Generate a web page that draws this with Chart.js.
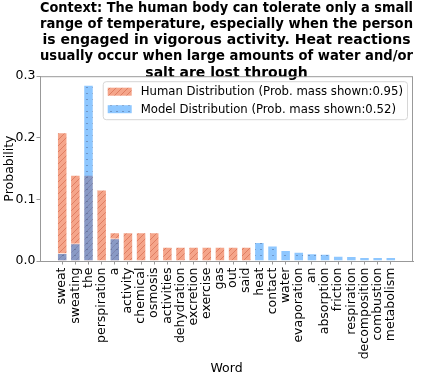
<!DOCTYPE html>
<html>
<head>
<meta charset="utf-8">
<script src="https://cdn.jsdelivr.net/npm/chart.js@4"></script>
<style>
  body { margin: 0; background: #fff; }
  canvas { display: block; }
</style>
</head>
<body>
<canvas id="myChart" width="425" height="379"></canvas>
<script>
// words on the x axis
var words = ['sweat', 'sweating', 'the', 'perspiration', 'a', 'activity', 'chemical', 'osmosis',
    'activities', 'dehydration', 'excretion', 'exercise', 'gas', 'out', 'said',
    'heat', 'contact', 'water', 'evaporation', 'an', 'absorption', 'friction',
    'respiration', 'decomposition', 'combustion', 'metabolism'];

var humanProb = [0.209, 0.140, 0.140, 0.116, 0.0465, 0.0465, 0.0465, 0.0465,
    0.0233, 0.0233, 0.0233, 0.0233, 0.0233, 0.0233, 0.0233,
    0, 0, 0, 0, 0, 0, 0, 0, 0, 0, 0];

var modelProb = [0.013, 0.029, 0.286, 0, 0.037, 0, 0, 0,
    0, 0, 0, 0, 0, 0, 0,
    0.031, 0.025, 0.018, 0.015, 0.0124, 0.0119, 0.0086, 0.0081, 0.0065, 0.0065, 0.0065];

var yTicks = [0, 0.1, 0.2, 0.3];

var titleLines = [
    'Context: The human body can tolerate only a small',
    'range of temperature, especially when the person',
    'is engaged in vigorous activity. Heat reactions',
    'usually occur when large amounts of water and/or',
    'salt are lost through'
];
var legendLabels = ['Human Distribution (Prob. mass shown:0.95)', 'Model Distribution (Prob. mass shown:0.52)'];

var FONT = '"DejaVu Sans", sans-serif';

// hatch "///" for the human bars
function hatchPattern() {
    var c = document.createElement('canvas');
    c.width = 6; c.height = 6;
    var g = c.getContext('2d');
    g.fillStyle = 'rgba(242,140,105,0.78)';
    g.fillRect(0, 0, 6, 6);
    g.strokeStyle = 'rgba(205,95,65,0.55)';
    g.lineWidth = 1;
    for (var k = -6; k <= 6; k += 6) {
        g.beginPath();
        g.moveTo(k, 6);
        g.lineTo(k + 6, 0);
        g.stroke();
    }
    return g.createPattern(c, 'repeat');
}

// dots for the model bars
function dotPattern() {
    var c = document.createElement('canvas');
    c.width = 6; c.height = 6;
    var g = c.getContext('2d');
    g.fillStyle = 'rgba(30,144,255,0.5)';
    g.fillRect(0, 0, 6, 6);
    g.fillStyle = 'rgba(70,90,130,0.45)';
    g.fillRect(2, 3, 2, 1);
    return g.createPattern(c, 'repeat');
}

var humanFill = hatchPattern();
var modelFill = dotPattern();

var legendFills = [humanFill, modelFill];

var ctx = document.getElementById('myChart').getContext('2d');

var framePlugin = {
    id: 'frame',
    afterLayout: function (chart) {
        // centre the title over the axes like matplotlib
        var a = chart.chartArea;
        chart.titleBlock.left = a.left;
        chart.titleBlock.right = a.right;
    },
    afterDatasetsDraw: function (chart) {
        var a = chart.chartArea;
        var c = chart.ctx;
        c.save();
        c.strokeStyle = '#999';
        c.lineWidth = 1;
        c.strokeRect(a.left + 0.5, a.top + 0.5, a.right - a.left - 1, a.bottom - a.top);
        c.restore();
    },
    afterDraw: function (chart) {
        var a = chart.chartArea;
        var c = chart.ctx;
        c.save();
        c.font = '11.7px ' + FONT;
        var tw = Math.max.apply(null, legendLabels.map(function (t) { return c.measureText(t).width; }));
        var w = 38 + tw + 4;
        var right = a.right - 6;
        var left = right - w;
        var top = a.top + 5;
        var h = 38;
        c.fillStyle = 'rgba(255,255,255,0.85)';
        c.strokeStyle = '#d6d6d6';
        c.lineWidth = 1;
        c.beginPath();
        c.roundRect(left + 0.5, top + 0.5, w, h, 3);
        c.fill();
        c.stroke();
        legendLabels.forEach(function (t, i) {
            var cy = top + 10.5 + i * 17.5;
            c.fillStyle = '#fff';
            c.fillRect(left + 5, cy - 4, 24, 8);
            c.fillStyle = legendFills[i];
            c.fillRect(left + 5, cy - 4, 24, 8);
            c.fillStyle = '#000';
            c.textBaseline = 'middle';
            c.textAlign = 'left';
            c.fillText(t, left + 38, cy + 0.5);
        });
        c.restore();
    }
};

var myChart = new Chart(ctx, {
    type: 'bar',
    data: {
        datasets: [
            {
                label: legendLabels[0],
                data: words.map(function (w, i) { return { x: i, y: humanProb[i] }; }),
                backgroundColor: humanFill,
                borderColor: 'rgba(255,255,255,0.7)',
                borderWidth: 1,
                grouped: false,
                order: 2,
                barPercentage: 0.8,
                categoryPercentage: 1
            },
            {
                label: legendLabels[1],
                data: words.map(function (w, i) { return { x: i, y: modelProb[i] }; }),
                backgroundColor: modelFill,
                borderColor: 'rgba(255,255,255,0.7)',
                borderWidth: 1,
                grouped: false,
                order: 1,
                barPercentage: 0.8,
                categoryPercentage: 1
            }
        ]
    },
    options: {
        responsive: false,
        animation: false,
        layout: {
            padding: { left: 0, right: 12, top: 0, bottom: 0 }
        },
        plugins: {
            legend: { display: false },
            tooltip: { enabled: false },
            title: {
                display: true,
                text: titleLines,
                color: '#000',
                font: { family: FONT, size: 14, weight: 'bold', lineHeight: 1.16 },
                padding: { top: 0, bottom: -5 }
            }
        },
        scales: {
            x: {
                type: 'linear',
                offset: false,
                min: -1.69,
                max: 26.69,
                afterBuildTicks: function (scale) {
                    scale.ticks = words.map(function (w, i) { return { value: i }; });
                },
                afterFit: function (scale) {
                    scale.height = 118;
                    scale.paddingLeft = 0;
                    scale.paddingRight = 0;
                },
                ticks: {
                    autoSkip: false,
                    minRotation: 90,
                    maxRotation: 90,
                    padding: 3,
                    color: '#000',
                    font: { family: FONT, size: 12.5 },
                    callback: function (v) { return words[v]; }
                },
                grid: { offset: false, drawOnChartArea: false, tickLength: 3.5, color: '#999' },
                border: { color: '#999' },
                title: {
                    display: true,
                    text: 'Word',
                    color: '#000',
                    font: { family: FONT, size: 12.5 },
                    padding: { top: 2, bottom: 3 }
                }
            },
            y: {
                min: 0,
                max: 0.3,
                afterBuildTicks: function (scale) {
                    scale.ticks = yTicks.map(function (v) { return { value: v }; });
                },
                afterFit: function (scale) {
                    scale.width = 40;
                },
                ticks: {
                    padding: 1,
                    color: '#000',
                    font: { family: FONT, size: 12.5 },
                    callback: function (v) { return v.toFixed(1); }
                },
                grid: { drawOnChartArea: false, tickLength: 3.5, color: '#999' },
                border: { color: '#999' },
                title: {
                    display: true,
                    text: 'Probability',
                    color: '#000',
                    font: { family: FONT, size: 12.5 },
                    padding: { top: 2, bottom: 2 }
                }
            }
        }
    },
    plugins: [framePlugin]
});
</script>
</body>
</html>
